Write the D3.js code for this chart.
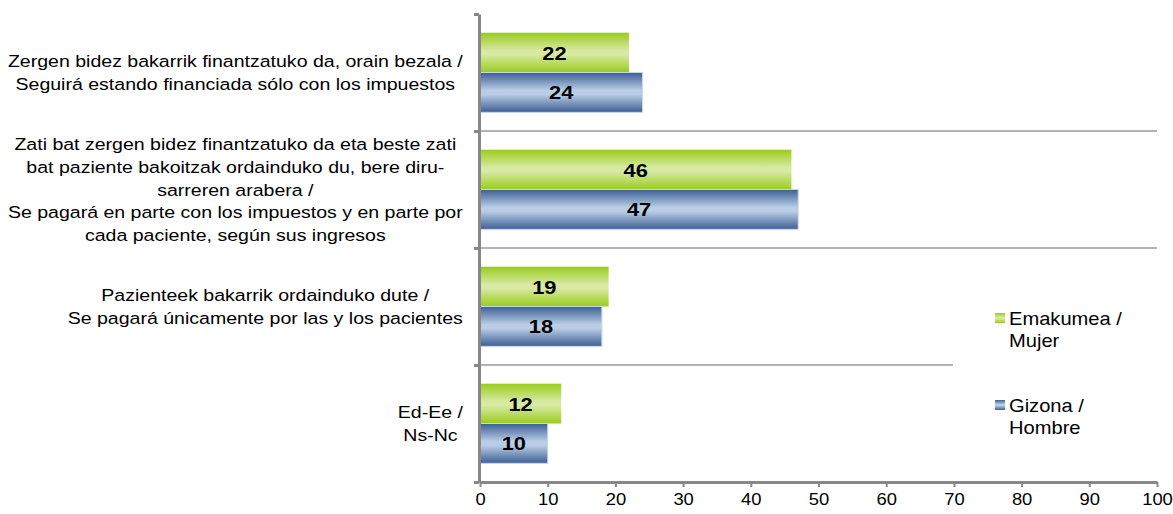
<!DOCTYPE html>
<html>
<head>
<meta charset="utf-8">
<script src="https://cdnjs.cloudflare.com/ajax/libs/d3/7.8.5/d3.min.js"></script>
<style>
  body { margin: 0; background: #fff; }
  svg { font-family: "Liberation Sans", Arial, sans-serif; }
</style>
</head>
<body>
<svg id="chart"></svg>
<script>
// CHART DATA
var categories = [
  ["Zergen bidez bakarrik finantzatuko da, orain bezala /", "Seguirá estando financiada sólo con los impuestos"],
  ["Zati bat zergen bidez finantzatuko da eta beste zati", "bat paziente bakoitzak ordainduko du, bere diru-", "sarreren arabera /", "Se pagará en parte con los impuestos y en parte por", "cada paciente, según sus ingresos"],
  ["Pazienteek bakarrik ordainduko dute /", "Se pagará únicamente por las y los pacientes"],
  ["Ed-Ee /", "Ns-Nc"]
];
var seriesNames = [["Emakumea /", "Mujer"], ["Gizona /", "Hombre"]];
var women = [22, 46, 19, 12];
var men = [24, 47, 18, 10];
var xTicks = [0, 10, 20, 30, 40, 50, 60, 70, 80, 90, 100];

// DRAWING AREA
var width = 1173;
var height = 514;
var plotLeft = 480, plotRight = 1157, plotTop = 14, plotBottom = 482;
var stretch = 1.15; // glyphs in the original are a little wider than Arial

var svg = d3.select("#chart").attr("width", width).attr("height", height);

// place a text at x,y with horizontally widened glyphs
function place(x, y) {
  return "translate(" + x + "," + y + ") scale(" + stretch + ",1)";
}

// gradients
var defs = svg.append("defs");
function grad(id, edge, mid) {
  var g = defs.append("linearGradient").attr("id", id)
    .attr("x1", 0).attr("y1", 0).attr("x2", 0).attr("y2", 1);
  g.append("stop").attr("offset", "0%").attr("stop-color", edge);
  g.append("stop").attr("offset", "45%").attr("stop-color", mid);
  g.append("stop").attr("offset", "55%").attr("stop-color", mid);
  g.append("stop").attr("offset", "100%").attr("stop-color", edge);
}
grad("gGreen", "#99cc1c", "#d7e9a2");
grad("gBlue", "#3c5e93", "#b9cde5");

var idx = d3.range(categories.length);
var xScale = d3.scaleLinear().domain([0, 100]).range([plotLeft, plotRight]);
var yScale = d3.scaleBand().domain(idx).range([plotTop, plotBottom]);
var ySub = d3.scaleBand().domain([0, 1]).range([0, yScale.bandwidth()]).paddingOuter(0.47);

// gridlines between categories
svg.selectAll("line.grid")
  .data(idx.slice(1))
  .enter().append("line")
  .attr("class", "grid")
  .attr("x1", plotLeft).attr("x2", function(d) { return d == 3 ? 953 : plotRight; })
  .attr("y1", function(d) { return yScale(d); })
  .attr("y2", function(d) { return yScale(d); })
  .style("stroke", "#9a9a9a").style("stroke-width", 1.5);

// BARS
var series = [
  { values: women, fill: "url(#gGreen)", stroke: "none" },
  { values: men, fill: "url(#gBlue)", stroke: "#c5d5ea" }
];
series.forEach(function(s, si) {
  svg.selectAll("rect.s" + si)
    .data(s.values)
    .enter().append("rect")
    .attr("class", "s" + si)
    .attr("x", xScale(0))
    .attr("y", function(d, i) { return yScale(i) + ySub(si); })
    .attr("width", function(d) { return xScale(d) - xScale(0); })
    .attr("height", ySub.bandwidth())
    .style("fill", s.fill)
    .style("stroke", s.stroke)
    .style("stroke-width", 1);

  svg.selectAll("text.v" + si)
    .data(s.values)
    .enter().append("text")
    .attr("class", "v" + si)
    .attr("transform", function(d, i) {
      return place((xScale(0) + xScale(d)) / 2, yScale(i) + ySub(si) + ySub.bandwidth() / 2 + 7);
    })
    .attr("text-anchor", "middle")
    .style("font-weight", "bold")
    .style("font-size", "19px")
    .text(function(d) { return d; });
});

// X AXIS
var xAxis = d3.axisBottom(xScale).tickValues(xTicks).tickSize(5).tickPadding(8).tickSizeOuter(0);
var gx = svg.append("g").attr("transform", "translate(0," + plotBottom + ")").call(xAxis);
gx.select(".domain").style("stroke", "#888").style("stroke-width", 3);
gx.selectAll(".tick line").style("stroke", "#888").style("stroke-width", 2);
gx.selectAll(".tick text")
  .attr("y", null).attr("dy", null)
  .attr("transform", place(0, 23))
  .style("font-size", "16px").style("font-family", "Liberation Sans, Arial, sans-serif").style("fill", "#000");

// Y AXIS
var yAxis = d3.axisLeft(d3.scaleLinear().domain([0, 4]).range([plotBottom, plotTop]))
  .ticks(4).tickSize(5).tickFormat("").tickSizeOuter(0);
var gy = svg.append("g").attr("transform", "translate(" + (plotLeft - 1) + ",0)").call(yAxis);
gy.select(".domain").style("stroke", "#888").style("stroke-width", 3);
gy.selectAll(".tick line").style("stroke", "#888").style("stroke-width", 3);

// CATEGORY LABELS (centred lines, block right-aligned to the axis)
var labelRight = 463;
var lineH = 22.7;
categories.forEach(function(lines, i) {
  var g = svg.append("g");
  var t = g.selectAll("text").data(lines).enter().append("text")
    .style("font-size", "17px")
    .attr("text-anchor", "middle")
    .text(function(d) { return d; });
  var maxW = 0;
  t.each(function() { maxW = Math.max(maxW, this.getComputedTextLength() * stretch); });
  var cy = yScale(i) + yScale.bandwidth() / 2;
  var y0 = cy - (lines.length - 1) * lineH / 2 + 6;
  t.attr("transform", function(d, j) { return place(labelRight - maxW / 2, y0 + j * lineH); });
});

// LEGEND
var legendY = [318, 405];
var legendFill = ["url(#gGreen)", "url(#gBlue)"];
seriesNames.forEach(function(lines, i) {
  svg.append("rect")
    .attr("x", 995).attr("y", legendY[i] - 5)
    .attr("width", 10).attr("height", 10)
    .style("fill", legendFill[i]);
  svg.append("g").selectAll("text").data(lines).enter().append("text")
    .attr("transform", function(d, j) { return place(1009, legendY[i] + 7 + j * 22); })
    .style("font-size", "17.5px")
    .text(function(d) { return d; });
});
</script>
</body>
</html>
